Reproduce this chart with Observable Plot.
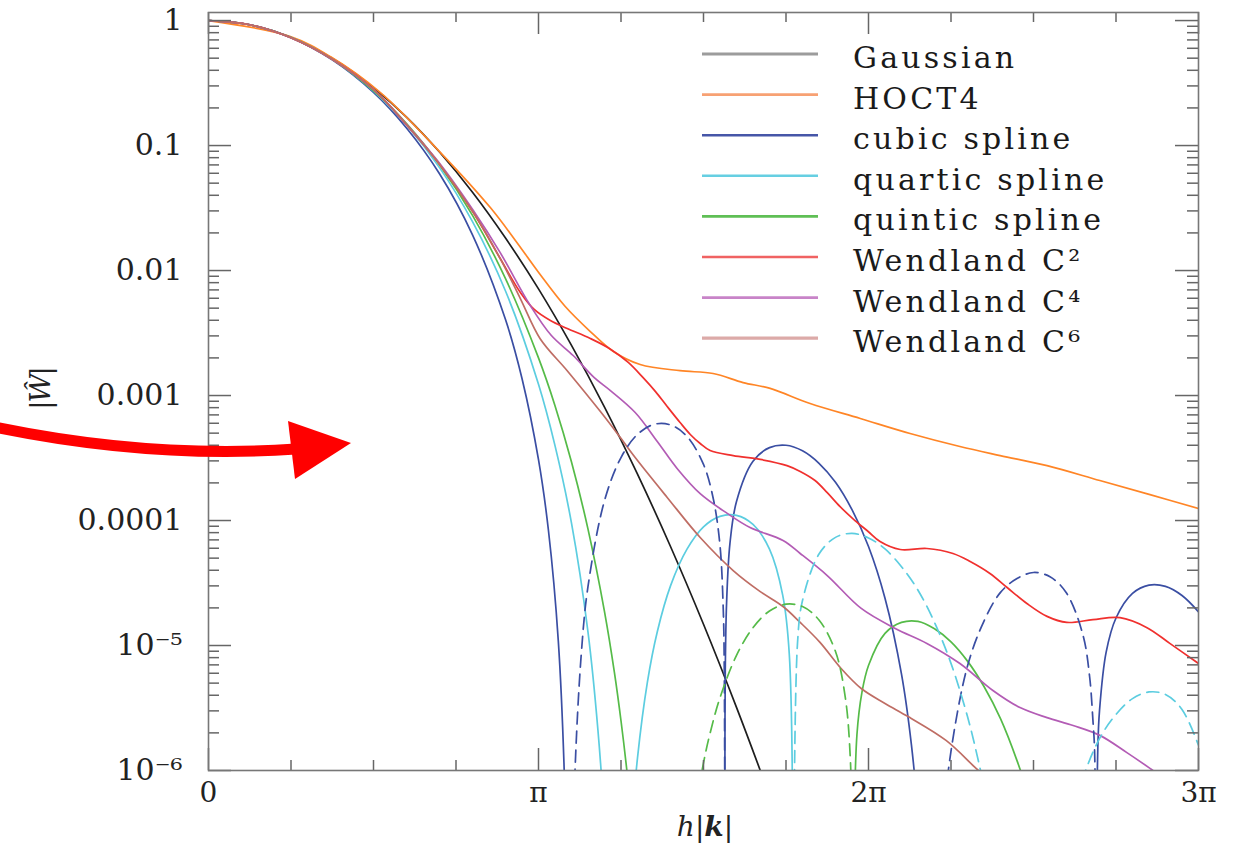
<!DOCTYPE html>
<html>
<head>
<meta charset="utf-8">
<script src="https://cdn.jsdelivr.net/npm/d3@7"></script>
<script src="https://cdn.jsdelivr.net/npm/@observablehq/plot@0.6"></script>
<style>
  body { margin: 0; background: #fff; }
  #wrap { position: relative; width: 1240px; height: 843px; overflow: hidden; background: #fff; }
  #wrap svg { position: absolute; left: 0; top: 0; }
</style>
</head>
<body>
<div id="wrap"></div>
<script>
// ---------- legend / categories ----------
const kernels = ["Gaussian", "HOCT4", "cubic spline", "quartic spline", "quintic spline", "Wendland C²", "Wendland C⁴", "Wendland C⁶"];
const lineColors = ["#1e1e1e", "#ff8526", "#3a4ea3", "#5ccde0", "#55bb48", "#f0302e", "#b35cb5", "#bf6d64"];
const legendColors = ["#9c9c9c", "#f7a173", "#4656a8", "#66cfe2", "#5fbf55", "#f06262", "#c884c8", "#dcaaa8"];

// ---------- axis ticks (x in units of π) ----------
const xTickValues = [0, 1, 2, 3];
const xTickLabels = ["0", "π", "2π", "3π"];
const xMinorTicks = [0.25, 0.5, 0.75, 1.25, 1.5, 1.75, 2.25, 2.5, 2.75];
const yTickValues = [1, 0.1, 0.01, 0.001, 0.0001, 1e-5, 1e-6];
const yTickLabels = ["1", "0.1", "0.01", "0.001", "0.0001", "10⁻⁵", "10⁻⁶"];
const yDecades = [1e-6, 1e-5, 1e-4, 1e-3, 1e-2, 1e-1];
const yMinorMantissas = [2, 3, 4, 5, 6, 7, 8, 9];

// ---------- series: h|k|/π  and  |W^| ----------
const gaussX = [0, 0.1, 0.2, 0.3, 0.4, 0.5, 0.6, 0.7, 0.8, 0.9, 1.0, 1.1, 1.2, 1.3, 1.4, 1.5, 1.6, 1.7, 1.75];
const gaussY = [1, 0.952, 0.821, 0.641, 0.453, 0.290, 0.169, 0.0887, 0.0423, 0.0182, 0.00713, 0.00252, 0.000809, 0.000235, 6.2e-5, 1.48e-5, 3.2e-6, 6.3e-7, 2.7e-7];

const hoctX = [0, 0.248, 0.369, 0.521, 0.703, 0.854, 0.930, 1.005, 1.081, 1.157, 1.227, 1.308, 1.429, 1.529, 1.62, 1.702, 1.823, 1.975, 2.126, 2.277, 2.399, 2.541, 2.701, 2.853, 3.0];
const hoctY = [1, 0.745, 0.515, 0.265, 0.0879, 0.0319, 0.0174, 0.00929, 0.00515, 0.00325, 0.00225, 0.00177, 0.00158, 0.0015, 0.00127, 0.00114, 8.63e-4, 6.55e-4, 4.97e-4, 3.91e-4, 3.31e-4, 2.75e-4, 2.09e-4, 1.61e-4, 1.25e-4];

// cubic spline: solid = positive, dashed = negative lobes
const cubicX1 = [0, 0.125, 0.25, 0.375, 0.5, 0.6, 0.7, 0.8, 0.9, 0.95, 1.0, 1.03, 1.06, 1.08, 1.09];
const cubicY1 = [1, 0.926, 0.730, 0.485, 0.266, 0.138, 0.0594, 0.0193, 0.00405, 0.00137, 3.07e-4, 8.4e-5, 1.09e-5, 6.6e-7, 1.4e-8];
const cubicX2 = [1.10, 1.11, 1.13, 1.15, 1.2, 1.25, 1.3, 1.35, 1.4, 1.45, 1.5, 1.53, 1.55, 1.56, 1.563, 1.5645];
const cubicY2 = [5e-8, 8.95e-7, 8.82e-6, 2.97e-5, 1.44e-4, 3.19e-4, 4.89e-4, 5.88e-4, 5.82e-4, 4.71e-4, 2.81e-4, 1.48e-4, 6.3e-5, 1.9e-5, 6.2e-6, 3e-7];
const cubicX3 = [1.5648, 1.566, 1.57, 1.58, 1.6, 1.65, 1.7, 1.75, 1.8, 1.85, 1.9, 1.95, 2.0, 2.05, 2.1, 2.13, 2.15, 2.17];
const cubicY3 = [8e-7, 6.4e-6, 2.21e-5, 6.5e-5, 1.42e-4, 2.98e-4, 3.83e-4, 4.0e-4, 3.61e-4, 2.87e-4, 2.02e-4, 1.22e-4, 6.19e-5, 2.39e-5, 5.9e-6, 1.61e-6, 4.3e-7, 4.4e-8];
const cubicX4 = [2.21, 2.23, 2.25, 2.3, 2.35, 2.4, 2.45, 2.5, 2.55, 2.6, 2.65, 2.67, 2.68, 2.685, 2.6895];
const cubicY4 = [7.4e-8, 4.8e-7, 1.43e-6, 6.85e-6, 1.57e-5, 2.66e-5, 3.43e-5, 3.84e-5, 3.55e-5, 2.63e-5, 1.21e-5, 5.65e-6, 2.54e-6, 1.48e-6, 1e-7];
const cubicX5 = [2.6905, 2.695, 2.70, 2.72, 2.75, 2.8, 2.85, 2.9, 2.95, 3.0];
const cubicY5 = [1e-7, 1.55e-6, 3.0e-6, 8.8e-6, 1.66e-5, 2.61e-5, 3.04e-5, 2.97e-5, 2.51e-5, 1.86e-5];

// quartic spline
const quarticX1 = [0, 0.125, 0.25, 0.375, 0.5, 0.6, 0.7, 0.8, 0.9, 1.0, 1.05, 1.1, 1.15, 1.18, 1.2, 1.22];
const quarticY1 = [1, 0.926, 0.732, 0.49, 0.273, 0.146, 0.0666, 0.0246, 0.00686, 0.00123, 3.97e-4, 9.53e-5, 1.28e-5, 2.12e-6, 3.7e-7, 1.8e-8];
const quarticX2 = [1.26, 1.28, 1.3, 1.33, 1.36, 1.4, 1.45, 1.5, 1.55, 1.6, 1.65, 1.7, 1.74, 1.76, 1.771];
const quarticY2 = [2.3e-8, 2.9e-7, 1.26e-6, 5.1e-6, 1.29e-5, 3.0e-5, 5.9e-5, 8.9e-5, 1.08e-4, 1.10e-4, 9.3e-5, 5.9e-5, 2.53e-5, 8.5e-6, 1e-7];
const quarticX3 = [1.773, 1.785, 1.8, 1.85, 1.9, 1.95, 2.0, 2.05, 2.1, 2.15, 2.2, 2.25, 2.3, 2.33, 2.35, 2.4];
const quarticY3 = [1e-7, 1.06e-5, 2.29e-5, 5.39e-5, 7.33e-5, 7.89e-5, 7.26e-5, 5.92e-5, 4.27e-5, 2.77e-5, 1.53e-5, 7.2e-6, 2.7e-6, 1.29e-6, 7.2e-7, 8.6e-8];
const quarticX4 = [2.58, 2.62, 2.65, 2.7, 2.75, 2.8, 2.85, 2.9, 2.95, 3.0];
const quarticY4 = [1.5e-7, 4.8e-7, 8.8e-7, 1.8e-6, 2.81e-6, 3.76e-6, 4.25e-6, 4.06e-6, 3.08e-6, 1.59e-6];

// quintic spline
const quinticX1 = [0, 0.125, 0.25, 0.375, 0.5, 0.6, 0.7, 0.8, 0.9, 1.0, 1.05, 1.1, 1.15, 1.2, 1.23, 1.25, 1.27, 1.29, 1.32];
const quinticY1 = [1, 0.926, 0.732, 0.49, 0.275, 0.150, 0.0703, 0.0276, 0.00862, 0.0020, 8.3e-4, 2.94e-4, 8.54e-5, 1.87e-5, 6.1e-6, 2.5e-6, 8.8e-7, 2.4e-7, 1.7e-8];
const quinticX2 = [1.44, 1.47, 1.5, 1.52, 1.55, 1.6, 1.65, 1.7, 1.75, 1.8, 1.85, 1.9, 1.93, 1.945, 1.953];
const quinticY2 = [9e-8, 4e-7, 1.15e-6, 1.99e-6, 3.82e-6, 8.34e-6, 1.39e-5, 1.89e-5, 2.14e-5, 2.05e-5, 1.6e-5, 8.95e-6, 3.79e-6, 1.23e-6, 1e-7];
const quinticX3 = [1.954, 1.965, 1.98, 2.0, 2.05, 2.1, 2.15, 2.2, 2.25, 2.3, 2.35, 2.4, 2.45, 2.5, 2.55];
const quinticY3 = [1e-7, 1.94e-6, 4.2e-6, 6.92e-6, 1.25e-5, 1.53e-5, 1.56e-5, 1.36e-5, 1.07e-5, 7.5e-6, 4.7e-6, 2.6e-6, 1.2e-6, 4.7e-7, 1.4e-7];

// Wendland kernels
const c2X = [0, 0.125, 0.248, 0.375, 0.5, 0.6, 0.703, 0.8025, 0.884, 0.945, 0.987, 1.036, 1.087, 1.157, 1.217, 1.272, 1.317, 1.354, 1.39, 1.429, 1.46, 1.49, 1.52, 1.59, 1.672, 1.753, 1.793, 1.838, 1.875, 1.914, 1.959, 1.999, 2.035, 2.096, 2.177, 2.256, 2.308, 2.368, 2.42, 2.48, 2.541, 2.601, 2.68, 2.762, 2.844, 2.913, 3.0];
const c2Y = [1, 0.926, 0.731, 0.49, 0.281, 0.147, 0.0692, 0.0291, 0.01247, 0.00667, 0.00488, 0.00398, 0.00344, 0.00286, 0.00236, 0.00184, 0.00139, 0.00108, 8.17e-4, 6.08e-4, 4.88e-4, 4.13e-4, 3.63e-4, 3.31e-4, 3.08e-4, 2.75e-4, 2.47e-4, 2.09e-4, 1.67e-4, 1.29e-4, 1.0e-4, 8.17e-5, 6.79e-5, 5.86e-5, 5.97e-5, 5.45e-5, 4.7e-5, 3.77e-5, 2.91e-5, 2.17e-5, 1.71e-5, 1.53e-5, 1.61e-5, 1.67e-5, 1.39e-5, 1.04e-5, 7.18e-6];

const c4X = [0, 0.125, 0.248, 0.375, 0.5, 0.6, 0.703, 0.8025, 0.884, 0.975, 1.039, 1.105, 1.169, 1.217, 1.293, 1.36, 1.42, 1.49, 1.572, 1.641, 1.741, 1.793, 1.875, 1.978, 2.081, 2.177, 2.277, 2.377, 2.459, 2.541, 2.62, 2.701, 2.783, 2.853, 2.913];
const c4Y = [1, 0.926, 0.731, 0.49, 0.281, 0.147, 0.0705, 0.0302, 0.0139, 0.00525, 0.00302, 0.00209, 0.00139, 0.0011, 7.31e-4, 4.29e-4, 2.61e-4, 1.64e-4, 1.14e-4, 8.79e-5, 6.92e-5, 5.45e-5, 3.63e-5, 1.98e-5, 1.37e-5, 1.04e-5, 7.18e-6, 4.37e-6, 3.19e-6, 2.65e-6, 2.29e-6, 1.91e-6, 1.39e-6, 1.04e-6, 8.0e-7];

const c6X = [0, 0.125, 0.248, 0.375, 0.5, 0.6, 0.703, 0.8025, 0.884, 0.945, 1.005, 1.087, 1.19, 1.248, 1.293, 1.39, 1.49, 1.59, 1.672, 1.741, 1.793, 1.853, 1.917, 1.978, 2.05, 2.12, 2.235, 2.326, 2.368];
const c6Y = [1, 0.926, 0.731, 0.49, 0.281, 0.147, 0.0692, 0.0291, 0.01247, 0.00597, 0.00285, 0.00158, 7.31e-4, 4.61e-4, 3.19e-4, 1.53e-4, 7.31e-5, 3.98e-5, 2.7e-5, 2.05e-5, 1.53e-5, 1.06e-5, 6.55e-6, 4.53e-6, 3.44e-6, 2.7e-6, 1.74e-6, 1.04e-6, 8.3e-7];

// ---------- build table ----------
const segments = [
  {kernel: kernels[0], dashed: false, x: gaussX, y: gaussY},
  {kernel: kernels[1], dashed: false, x: hoctX, y: hoctY},
  {kernel: kernels[2], dashed: false, x: cubicX1, y: cubicY1},
  {kernel: kernels[2], dashed: true,  x: cubicX2, y: cubicY2},
  {kernel: kernels[2], dashed: false, x: cubicX3, y: cubicY3},
  {kernel: kernels[2], dashed: true,  x: cubicX4, y: cubicY4},
  {kernel: kernels[2], dashed: false, x: cubicX5, y: cubicY5},
  {kernel: kernels[3], dashed: false, x: quarticX1, y: quarticY1},
  {kernel: kernels[3], dashed: false, x: quarticX2, y: quarticY2},
  {kernel: kernels[3], dashed: true,  x: quarticX3, y: quarticY3},
  {kernel: kernels[3], dashed: true,  x: quarticX4, y: quarticY4},
  {kernel: kernels[4], dashed: false, x: quinticX1, y: quinticY1},
  {kernel: kernels[4], dashed: true,  x: quinticX2, y: quinticY2},
  {kernel: kernels[4], dashed: false, x: quinticX3, y: quinticY3},
  {kernel: kernels[5], dashed: false, x: c2X, y: c2Y},
  {kernel: kernels[6], dashed: false, x: c4X, y: c4Y},
  {kernel: kernels[7], dashed: false, x: c6X, y: c6Y}
];
const rows = segments.flatMap((s, i) => s.x.map((x, j) => ({x, y: s.y[j], kernel: s.kernel, seg: i, dashed: s.dashed})));
const yMinor = yDecades.flatMap(d => yMinorMantissas.map(m => m * d));

const W = 1240, H = 843, mL = 208, mR = 42, mT = 12, mB = 73;
const innerW = W - mL - mR, innerH = H - mT - mB;
const tickColor = "#666";

const plot = Plot.plot({
  width: W, height: H,
  marginLeft: mL, marginRight: mR, marginTop: mT, marginBottom: mB,
  x: {domain: [0, 3], axis: null},
  y: {type: "log", domain: [1e-6, 1.16], axis: null},
  color: {domain: kernels, range: lineColors},
  style: {fontFamily: "'DejaVu Serif', serif", background: "transparent", color: "#222"},
  marks: [
    Plot.line(rows.filter(d => !d.dashed), {x: "x", y: "y", z: "seg", stroke: "kernel", strokeWidth: 1.7, curve: "catmull-rom", clip: true}),
    Plot.line(rows.filter(d => d.dashed), {x: "x", y: "y", z: "seg", stroke: "kernel", strokeWidth: 1.7, strokeDasharray: "12,7", curve: "catmull-rom", clip: true}),
    // inward ticks on all four sides
    Plot.ruleX(xTickValues, {x: d => d, insetTop: innerH - 22, stroke: tickColor, strokeWidth: 1.5}),
    Plot.ruleX(xTickValues, {x: d => d, insetBottom: innerH - 22, stroke: tickColor, strokeWidth: 1.5}),
    Plot.ruleX(xMinorTicks, {x: d => d, insetTop: innerH - 10, stroke: tickColor, strokeWidth: 1.5}),
    Plot.ruleX(xMinorTicks, {x: d => d, insetBottom: innerH - 10, stroke: tickColor, strokeWidth: 1.5}),
    Plot.ruleY(yTickValues, {y: d => d, insetRight: innerW - 23, stroke: tickColor, strokeWidth: 1.5}),
    Plot.ruleY(yTickValues, {y: d => d, insetLeft: innerW - 23, stroke: tickColor, strokeWidth: 1.5}),
    Plot.ruleY(yMinor, {y: d => d, insetRight: innerW - 11, stroke: tickColor, strokeWidth: 1.5}),
    Plot.ruleY(yMinor, {y: d => d, insetLeft: innerW - 11, stroke: tickColor, strokeWidth: 1.5}),
    Plot.frame({stroke: "#777", strokeWidth: 1.6}),
    // tick labels
    Plot.text(xTickValues, {x: d => d, text: (d, i) => xTickLabels[i], frameAnchor: "bottom", dy: 31, fontSize: 28, fill: "#222"}),
    Plot.text(yTickValues, {y: d => d, text: (d, i) => yTickLabels[i], frameAnchor: "left", dx: -26, textAnchor: "end", fontSize: 30, fill: "#222"})
  ]
});

const wrap = document.getElementById("wrap");
wrap.appendChild(plot);

// ---------- overlay: legend, axis titles, annotation arrow ----------
const ov = d3.select(wrap).append("svg")
  .attr("width", W).attr("height", H)
  .style("pointer-events", "none")
  .style("font-family", "'DejaVu Serif', serif");

const leg = ov.append("g");
kernels.forEach((k, i) => {
  const yy = 54 + i * 40.6;
  leg.append("line")
    .attr("x1", 702).attr("x2", 818).attr("y1", yy).attr("y2", yy)
    .attr("stroke", legendColors[i]).attr("stroke-width", i === 0 || i === 7 ? 3.2 : 2.6);
  leg.append("text")
    .attr("x", 853).attr("y", yy + 14)
    .attr("font-size", 30).attr("letter-spacing", "3.2px").attr("fill", "#1a1a1a")
    .text(k);
});

// x axis title h|k|
const xt = ov.append("text").attr("x", 705).attr("y", 836).attr("text-anchor", "middle")
  .attr("font-size", 28).attr("fill", "#222");
xt.append("tspan").attr("font-style", "italic").text("h");
xt.append("tspan").text("|");
xt.append("tspan").attr("font-style", "italic").attr("font-weight", "bold").text("k");
xt.append("tspan").text("|");

// y axis title |W^|
ov.append("text")
  .attr("transform", "translate(50,389) rotate(-90)")
  .attr("text-anchor", "middle").attr("font-size", 28).attr("fill", "#222")
  .attr("font-style", "italic").attr("letter-spacing", "-2px")
  .text("|Ŵ|");

// red annotation arrow
ov.append("path")
  .attr("d", "M -5,427 Q 150,459 296,449")
  .attr("fill", "none").attr("stroke", "#ff0000").attr("stroke-width", 11);
ov.append("path")
  .attr("d", "M 288,421 L 351,443 L 295,479 Z")
  .attr("fill", "#ff0000");
</script>
</body>
</html>
